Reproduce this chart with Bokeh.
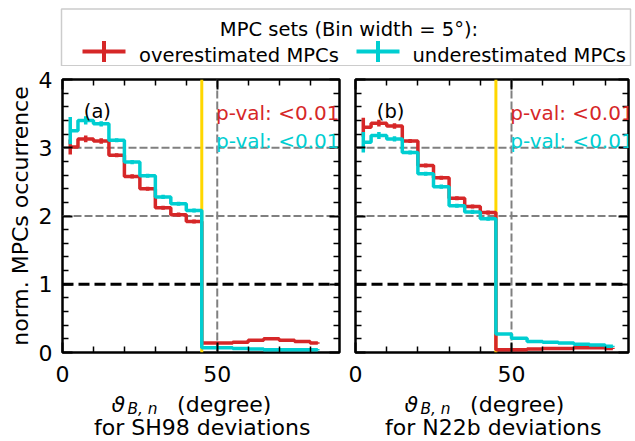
from bokeh.plotting import figure
from bokeh.layouts import column, row
from bokeh.models import Span, Label, LinearAxis, FixedTicker, Range1d
from bokeh.core.properties import value
from bokeh.embed import file_html
from bokeh.resources import INLINE

# ---------------- data ----------------
bin_centers = [2.5, 7.5, 12.5, 17.5, 22.5, 27.5, 32.5, 37.5, 42.5,
               47.5, 52.5, 57.5, 62.5, 67.5, 72.5, 77.5, 82.5]

sh98_over = [3.01, 3.13, 3.10, 2.89, 2.58, 2.40, 2.12, 2.02, 1.92,
             0.14, 0.14, 0.15, 0.18, 0.20, 0.18, 0.16, 0.14]
sh98_over_err = [0.11, 0.05, 0.04, 0.03, 0.03, 0.03, 0.03, 0.03, 0.03,
                 0.01, 0.01, 0.01, 0.01, 0.01, 0.01, 0.01, 0.01]
sh98_under = [3.25, 3.40, 3.35, 3.11, 2.79, 2.59, 2.28, 2.18, 2.08,
              0.07, 0.07, 0.06, 0.05, 0.04, 0.04, 0.04, 0.04]
sh98_under_err = [0.20, 0.06, 0.04, 0.03, 0.03, 0.03, 0.03, 0.03, 0.03,
                  0.01, 0.01, 0.01, 0.01, 0.01, 0.01, 0.01, 0.01]

n22b_over = [3.30, 3.36, 3.32, 3.10, 2.74, 2.56, 2.26, 2.14, 2.05,
             0.04, 0.04, 0.05, 0.06, 0.06, 0.07, 0.07, 0.06]
n22b_over_err = [0.14, 0.05, 0.04, 0.03, 0.03, 0.03, 0.03, 0.03, 0.03,
                 0.01, 0.01, 0.01, 0.01, 0.01, 0.01, 0.01, 0.01]
n22b_under = [3.08, 3.18, 3.13, 2.93, 2.62, 2.43, 2.15, 2.06, 1.96,
              0.27, 0.21, 0.16, 0.15, 0.14, 0.12, 0.11, 0.09]
n22b_under_err = [0.15, 0.05, 0.04, 0.03, 0.03, 0.03, 0.03, 0.03, 0.03,
                  0.01, 0.01, 0.01, 0.01, 0.01, 0.01, 0.01, 0.01]

x_major = [0, 50]
x_minor = [10, 20, 30, 40, 60, 70, 80]
y_major = [0, 1, 2, 3, 4]
y_minor = [0.2, 0.4, 0.6, 0.8, 1.2, 1.4, 1.6, 1.8, 2.2, 2.4, 2.6, 2.8,
           3.2, 3.4, 3.6, 3.8]

legend_title = "MPC sets (Bin width = 5°):"
series_names = ["overestimated MPCs", "underestimated MPCs"]
pval_text = "p-val: <0.01"
panel_letters = ["(a)", "(b)"]
dev_names = ["SH98", "N22b"]

RED = "#d62728"
CYAN = "#00ced1"
FONT = "DejaVu Sans"
PX_PER_Y = 273 / 4.0
LEG_H = 66


def style_axis(ax, ticks, minor, show_labels):
    ax.ticker = FixedTicker(ticks=ticks, minor_ticks=minor)
    ax.axis_label = None
    ax.axis_label_standoff = 0
    ax.axis_line_color = None
    ax.major_tick_in = 10
    ax.major_tick_out = 0
    ax.minor_tick_in = 6
    ax.minor_tick_out = 0
    ax.major_tick_line_width = 2
    ax.minor_tick_line_width = 1.5
    ax.major_tick_line_color = "black"
    ax.minor_tick_line_color = "black"
    ax.major_label_text_font = FONT
    ax.major_label_text_color = "black"
    ax.major_label_text_font_size = "22px"
    if not show_labels:
        ax.major_label_overrides = {t: "" for t in ticks}
        ax.major_label_standoff = 0


def panel(over, over_err, under, under_err, xmax, frame_w, left_b, right_b,
          show_y, letter):
    p = figure(frame_width=frame_w, frame_height=273,
               x_range=Range1d(0, xmax), y_range=Range1d(0, 4),
               output_backend="svg", toolbar_location=None,
               min_border_left=left_b, min_border_right=right_b,
               min_border_top=79 - LEG_H, min_border_bottom=40,
               background_fill_color="white", border_fill_color="white")
    p.title.visible = False
    p.grid.visible = False
    p.outline_line_color = "black"
    p.outline_line_width = 2.5

    style_axis(p.xaxis[0], x_major, x_minor, True)
    p.xaxis[0].major_label_standoff = 13
    style_axis(p.yaxis[0], y_major, y_minor, show_y)
    if show_y:
        p.yaxis[0].major_label_standoff = 10
        p.yaxis[0].axis_label = "norm. MPCs occurrence"
        p.yaxis[0].axis_label_text_font = FONT
        p.yaxis[0].axis_label_text_font_size = "22px"
        p.yaxis[0].axis_label_text_font_style = "normal"
        p.yaxis[0].axis_label_text_color = "black"
        p.yaxis[0].axis_label_standoff = 3

    top = LinearAxis()
    style_axis(top, x_major, x_minor, False)
    p.add_layout(top, "above")
    right = LinearAxis()
    style_axis(right, y_major, y_minor, False)
    p.add_layout(right, "right")

    for loc in (2, 3):
        p.add_layout(Span(location=loc, dimension="width", line_color="#808080",
                          line_dash="8 3", line_width=2, level="underlay"))
    p.add_layout(Span(location=50, dimension="height", line_color="#808080",
                      line_dash="8 3", line_width=2, level="underlay"))
    p.add_layout(Span(location=1, dimension="width", line_color="black",
                      line_dash="11 5", line_width=3, level="underlay"))
    p.add_layout(Span(location=45, dimension="height", line_color="#ffd700",
                      line_width=3, level="underlay"))

    for vals, errs, col in ((over, over_err, RED), (under, under_err, CYAN)):
        p.step(x=bin_centers, y=vals, mode="center", line_color=col, line_width=3.5)
        lo = [v - e for v, e in zip(vals, errs)]
        hi = [v + e for v, e in zip(vals, errs)]
        p.segment(x0=bin_centers, y0=lo, x1=bin_centers, y1=hi,
                  line_color=col, line_width=3.5)

    pxx = xmax / frame_w
    p.add_layout(Label(x=21.3 * pxx, y=(352 - 110.8) / PX_PER_Y, text=letter,
                       text_font=FONT, text_font_size="19.5px", text_color="black",
                       text_baseline="alphabetic", text_align="left"))
    p.add_layout(Label(x=49.6, y=(352 - 112.3) / PX_PER_Y, text=pval_text,
                       text_color=RED, text_font=FONT, text_font_size="20px",
                       text_baseline="alphabetic", text_align="left"))
    p.add_layout(Label(x=49.6, y=(352 - 140.8) / PX_PER_Y, text=pval_text,
                       text_color=CYAN, text_font=FONT, text_font_size="20px",
                       text_baseline="alphabetic", text_align="left"))
    return p


pa = panel(sh98_over, sh98_over_err, sh98_under, sh98_under_err, 89.5, 277, 62, 8,
           True, panel_letters[0])
pb = panel(n22b_over, n22b_over_err, n22b_under, n22b_under_err, 87.5, 273, 8, 7,
           False, panel_letters[1])

lg = figure(width=635, height=LEG_H, x_range=Range1d(0, 635), y_range=Range1d(LEG_H, 0),
            output_backend="svg", toolbar_location=None, x_axis_type=None,
            y_axis_type=None, min_border=0, border_fill_color="white",
            background_fill_color="white")
lg.title.visible = False
lg.grid.visible = False
lg.outline_line_color = None
lg.quad(left=[61], right=[630], top=[8.5], bottom=[LEG_H - 0.8], fill_color="white",
        fill_alpha=0.85, line_color="#cccccc", line_width=1.5)
lg.text(x=[348.5], y=[29], text=[legend_title], text_font=value(FONT),
        text_font_size="19.5px", text_align="center", text_baseline="alphabetic",
        text_color="black")
for xs, col, tx, name in ((82, RED, 138.5, series_names[0]),
                          (356, CYAN, 412, series_names[1])):
    lg.segment(x0=[xs], y0=[51], x1=[xs + 43], y1=[51], line_color=col, line_width=4)
    lg.segment(x0=[xs + 21.5], y0=[40.5], x1=[xs + 21.5], y1=[61.5], line_color=col,
               line_width=4)
    lg.text(x=[tx], y=[54.5], text=[name], text_font=value(FONT), text_font_size="19.5px",
            text_align="left", text_baseline="alphabetic", text_color="black")

xl = figure(width=635, height=49, x_range=Range1d(0, 635), y_range=Range1d(49, 0),
            output_backend="svg", toolbar_location=None, x_axis_type=None,
            y_axis_type=None, min_border=0, border_fill_color="white",
            background_fill_color="white")
xl.title.visible = False
xl.grid.visible = False
xl.outline_line_color = None
for shift, shift2, name in ((0, 0, dev_names[0]), (293, 291, dev_names[1])):
    xl.text(x=[111 + shift], y=[11.5], text=["ϑ"], text_font=value(FONT),
            text_font_style="italic", text_font_size="22px", text_align="left",
            text_baseline="alphabetic", text_color="black")
    xl.text(x=[127 + shift], y=[16.5], text=["B, n"], text_font=value(FONT),
            text_font_style="italic", text_font_size="15.4px", text_align="left",
            text_baseline="alphabetic", text_color="black")
    xl.text(x=[176.6 + shift], y=[11.5], text=["(degree)"], text_font=value(FONT),
            text_font_size="22px", text_align="left",
            text_baseline="alphabetic", text_color="black")
    xl.text(x=[201.7 + shift2], y=[34.5], text=[f"for {name} deviations"],
            text_font=value(FONT), text_font_size="22px", text_align="center",
            text_baseline="alphabetic", text_color="black")

layout = column(lg, row(pa, pb, spacing=0), xl, spacing=0)
open("out.html", "w").write(file_html(layout, INLINE))
